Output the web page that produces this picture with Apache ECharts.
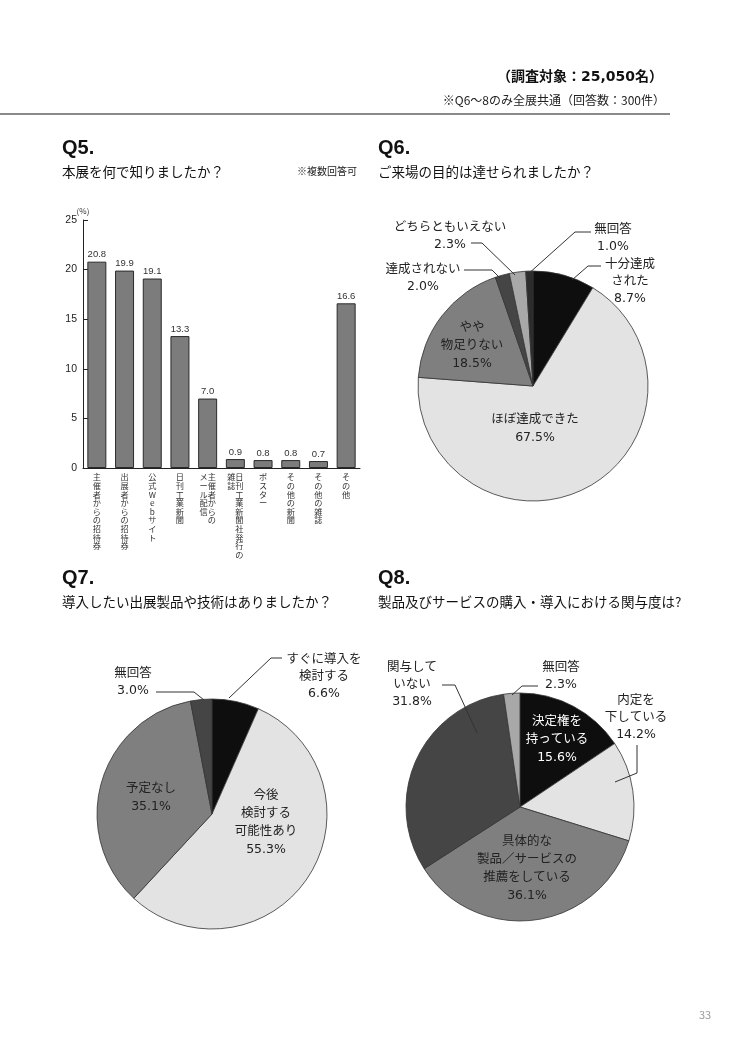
<!DOCTYPE html>
<html><head><meta charset="utf-8">
<script src="https://cdn.jsdelivr.net/npm/echarts@6/dist/echarts.min.js"></script>
<style>html,body{margin:0;padding:0;background:#fff}#c{width:740px;height:1047px}</style>
</head><body><div id="c"></div>
<script>
// ---------- DATA ----------
const q5Categories = ['主催者からの招待券','出展者からの招待券','公式Webサイト','日刊工業新聞','主催者からの\nメール配信','日刊工業新聞社発行の\n雑誌','ポスター','その他の新聞','その他の雑誌','その他'];
const q5Values = [20.8,19.9,19.1,13.3,7.0,0.9,0.8,0.8,0.7,16.6];
const q5AxisMin = 0, q5AxisMax = 25, q5AxisStep = 5;

const q6Names = ['十分達成\nされた','ほぼ達成できた','やや\n物足りない','達成されない','どちらともいえない','無回答'];
const q6Values = [8.7,67.5,18.5,2.0,2.3,1.0];

const q7Names = ['すぐに導入を\n検討する','今後\n検討する\n可能性あり','予定なし','無回答'];
const q7Values = [6.6,55.3,35.1,3.0];

const q8Names = ['決定権を\n持っている','内定を\n下している','具体的な\n製品／サービスの\n推薦をしている','関与して\nいない','無回答'];
const q8Values = [15.6,14.2,36.1,31.8,2.3];

// ---------- STYLE / LAYOUT ----------
const FONT = '"Noto Sans CJK JP", "Noto Sans", sans-serif';
const LFONT = '"DejaVu Sans", "Noto Sans CJK JP", sans-serif';
const BLACK = '#0e0e0e', LIGHT = '#e3e3e3', MID = '#7f7f7f', DARK = '#454545', PALE = '#a8a8a8', DARKER = '#2c2c2c';
const q6Colors = [BLACK, LIGHT, MID, DARK, PALE, DARKER];
const q7Colors = [BLACK, LIGHT, MID, DARK];
const q8Colors = [BLACK, LIGHT, MID, DARK, PALE];

// label layout: [dx, dy, inside?, white?, leader points rel. to center]
const q6Layout = { c:[533,386], r:115, items:[
  [97,-104,false,false,[[39,-106],[55,-120],[68,-120]]],
  [2,43,true],
  [-61,-40,true],
  [-110,-108,false,false,[[-69,-116],[-41,-116],[-33,-108]]],
  [-83,-150,false,false,[[-62,-143],[-51,-143],[-18,-111]]],
  [80,-148,false,false,[[-6,-111],[42,-154],[58,-154]]]
]};
const q7Layout = { c:[212,814], r:115, items:[
  [112,-137,false,false,[[17,-116],[59,-156],[70,-156]]],
  [54,9,true],
  [-61,-16,true],
  [-79,-132,false,false,[[-56,-122],[-18,-122],[-8,-114]]]
]};
const q8Layout = { c:[520,807], r:114, items:[
  [37,-67,true,true],
  [116,-89,false,false,[[95,-25],[117,-34],[117,-62]]],
  [7,62,true],
  [-108,-122,false,false,[[-78,-122],[-65,-122],[-43,-74]]],
  [41,-131,false,false,[[18,-121],[2,-121],[-8,-112]]]
]};

function verticalText(name){
  const cols = name.split('\n').map(s => Array.from(s));
  const n = Math.max.apply(null, cols.map(c => c.length));
  const lines = [];
  for (let i = 0; i < n; i++) {
    let row = '';
    for (let j = cols.length - 1; j >= 0; j--) row += (cols[j][i] || '\u3000');
    lines.push(row);
  }
  return lines.join('\n');
}

function pieSeries(names, values, colors, L){
  return {
    type:'pie', center:L.c, radius:[0, L.r], startAngle:90, clockwise:true,
    avoidLabelOverlap:false, silent:true,
    itemStyle:{borderColor:'#333', borderWidth:0.8},
    label:{show:true, position:'outside', fontFamily:LFONT, fontSize:12.5, lineHeight:17, color:'#222',
      formatter: p => p.name + '\n' + p.value.toFixed(1) + '%'},
    labelLine:{show:false},
    data: names.map((n,i) => {
      const it = L.items[i];
      const d = {name:n, value:values[i], itemStyle:{color:colors[i]}};
      if (it[2]) { d.label = {lineHeight:18, color: it[3] ? '#fff' : '#222'}; }
      return d;
    }),
    labelLayout: function(params){
      const it = L.items[params.dataIndex];
      return {x: L.c[0] + it[0], y: L.c[1] + it[1], align:'center', verticalAlign:'middle'};
    }
  };
}

function leaders(L){
  return L.items.filter(it => it[4]).map(it => ({
    type:'polyline', z:100,
    shape:{points: it[4].map(p => [L.c[0] + p[0], L.c[1] + p[1]])},
    style:{stroke:'#333', lineWidth:1, fill:null}
  }));
}

function title(x, y, q, sub){
  return [
    {type:'text', left:x, top:y - 14, style:{text:q, font:'bold 20px "Liberation Sans", Arial, sans-serif', fill:'#111'}},
    {type:'text', left:x, top:y + 13, style:{text:sub, font:'13.5px ' + FONT, fill:'#111'}}
  ];
}

const chart = echarts.init(document.getElementById('c'), null, {renderer:'canvas'});
chart.setOption({
  backgroundColor:'#fff',
  animation:false,
  textStyle:{fontFamily:FONT},
  graphic:[
    {type:'text', right:77, top:70, style:{text:'（調査対象：25,050名）', font:'bold 14px ' + LFONT, fill:'#111'}},
    {type:'text', right:75, top:94, style:{text:'※Q6〜8のみ全展共通（回答数：300件）', font:'12px ' + FONT, fill:'#222'}},
    {type:'line', shape:{x1:0, y1:114, x2:670, y2:114}, style:{stroke:'#8a8a8a', lineWidth:2}},
    ...title(62, 152, 'Q5.', '本展を何で知りましたか？'),
    {type:'text', left:297, top:166, style:{text:'※複数回答可', font:'10px ' + FONT, fill:'#222'}},
    ...title(378, 152, 'Q6.', 'ご来場の目的は達せられましたか？'),
    ...title(62, 582, 'Q7.', '導入したい出展製品や技術はありましたか？'),
    ...title(378, 582, 'Q8.', '製品及びサービスの購入・導入における関与度は?'),
    {type:'text', left:699, top:1009, style:{text:'33', font:'11px ' + FONT, fill:'#9a9a9a'}},
    ...leaders(q6Layout), ...leaders(q7Layout), ...leaders(q8Layout)
  ],
  grid:{left:83, top:220, width:277, height:248, containLabel:false},
  xAxis:{type:'category', data:q5Categories,
    axisLine:{lineStyle:{color:'#222', width:1}}, axisTick:{show:false},
    axisLabel:{interval:0, margin:5, fontSize:8.2, lineHeight:8.6, color:'#333', verticalAlign:'top', fontFamily:FONT,
      formatter: verticalText}},
  yAxis:{type:'value', min:q5AxisMin, max:q5AxisMax, interval:q5AxisStep,
    name:'(%)', nameGap:4, nameTextStyle:{fontSize:8, color:'#333'},
    axisLine:{show:true, lineStyle:{color:'#222', width:1}},
    axisTick:{show:true, inside:true, length:5, lineStyle:{color:'#222'}},
    splitLine:{show:false},
    axisLabel:{fontSize:10.5, color:'#222', margin:6, fontFamily:'"Liberation Sans", Arial, sans-serif'}},
  series:[
    {type:'bar', data:q5Values, barWidth:19, silent:true,
      itemStyle:{color:'#7c7c7c', borderColor:'#2a2a2a', borderWidth:1},
      label:{show:true, position:'top', distance:2, fontSize:9.5, color:'#333', fontFamily:'"Liberation Sans", Arial, sans-serif',
        formatter: p => p.value.toFixed(1)}},
    pieSeries(q6Names, q6Values, q6Colors, q6Layout),
    pieSeries(q7Names, q7Values, q7Colors, q7Layout),
    pieSeries(q8Names, q8Values, q8Colors, q8Layout)
  ]
});
</script></body></html>
